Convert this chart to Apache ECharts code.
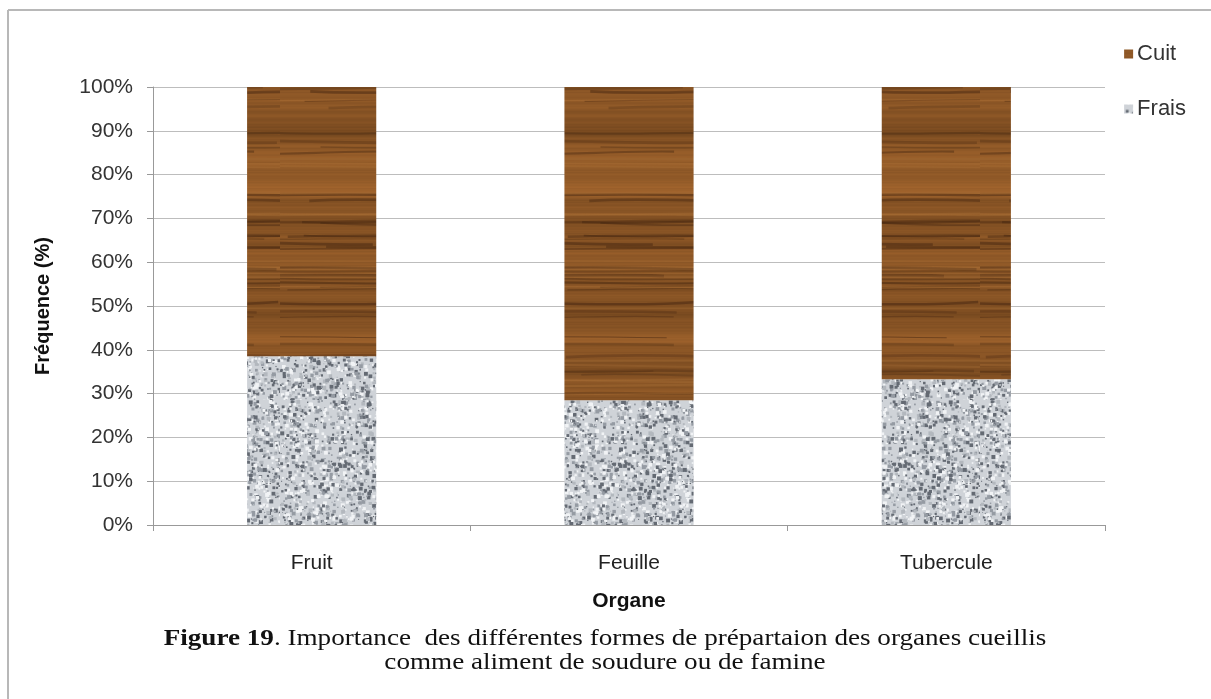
<!DOCTYPE html>
<html lang="fr">
<head>
<meta charset="UTF-8">
<script src="https://cdn.jsdelivr.net/npm/echarts@6/dist/echarts.min.js"></script>
<title>Figure 19</title>
<style>
html,body{margin:0;padding:0;background:#fff;}
#chart{width:1211px;height:699px;}
</style>
</head>
<body>
<div id="chart"></div>
<script>
var categories = ['Fruit', 'Feuille', 'Tubercule'];
var frais = [38.5, 28.5, 33.3];
var cuit = [61.5, 71.5, 66.7];
var yTicks = ['0%', '10%', '20%', '30%', '40%', '50%', '60%', '70%', '80%', '90%', '100%'];

// textures (style only, seeded so they stay the same)
var seed = 7;
function rnd() { seed = (seed * 16807) % 2147483647; return seed / 2147483647; }

function woodTexture() {
    var c = document.createElement('canvas');
    c.width = 140; c.height = 460;
    var g = c.getContext('2d');
    var v = 0.5;
    for (var y = 0; y < c.height; y++) {
        v += (rnd() - 0.5) * 0.25;
        v = Math.max(0, Math.min(1, v * 0.9 + 0.05));
        var r = 108 + Math.floor(v * 56), gg = 66 + Math.floor(v * 36), b = 28 + Math.floor(v * 18);
        g.fillStyle = 'rgb(' + r + ',' + gg + ',' + b + ')';
        g.fillRect(0, y, c.width, 1);
    }
    for (var i = 0; i < 50; i++) {
        var yy = rnd() * c.height, x0 = rnd() * c.width;
        g.strokeStyle = 'rgba(72,40,17,' + (0.25 + rnd() * 0.35) + ')';
        g.lineWidth = 1 + rnd() * 2;
        g.beginPath();
        g.moveTo(x0 - 90, yy);
        g.bezierCurveTo(x0 - 30, yy + (rnd() - 0.5) * 8, x0 + 30, yy + (rnd() - 0.5) * 8, x0 + 90, yy + (rnd() - 0.5) * 4);
        g.stroke();
    }
    for (var j = 0; j < 30; j++) {
        var y2 = rnd() * c.height;
        g.strokeStyle = 'rgba(180,118,60,0.3)';
        g.lineWidth = 1 + rnd() * 2;
        g.beginPath();
        g.moveTo(0, y2);
        g.lineTo(c.width, y2 + (rnd() - 0.5) * 4);
        g.stroke();
    }
    return c;
}

function graniteTexture() {
    var c = document.createElement('canvas');
    c.width = 140; c.height = 200;
    var g = c.getContext('2d');
    g.fillStyle = '#cfd3d8';
    g.fillRect(0, 0, c.width, c.height);
    for (var i = 0; i < 2400; i++) {
        var x = rnd() * c.width, y = rnd() * c.height, s = 1 + rnd() * 3;
        var v = rnd();
        var col = v < 0.3 ? '#646a73' : (v < 0.55 ? '#959ba3' : (v < 0.85 ? '#f1f3f5' : '#b3b8be'));
        g.fillStyle = col;
        g.fillRect(x, y, s, s);
    }
    return c;
}

var chart = echarts.init(document.getElementById('chart'));
var font = 'Arial';
var serif = "'Liberation Serif', 'Times New Roman', serif";

var option = {
    backgroundColor: '#fff',
    animation: false,
    graphic: [
        { type: 'line', shape: { x1: 8, y1: 10, x2: 1211, y2: 10 }, style: { stroke: '#b8b8b8', lineWidth: 2 } },
        { type: 'line', shape: { x1: 8, y1: 10, x2: 8, y2: 699 }, style: { stroke: '#b8b8b8', lineWidth: 2 } },
        {
            type: 'text', x: 605, y: 639, scaleX: 1.13,
            style: {
                text: '{b|Figure 19}. Importance  des différentes formes de prépartaion des organes cueillis',
                font: '24px ' + serif, fill: '#111', align: 'center', verticalAlign: 'middle',
                rich: { b: { fontWeight: 'bold', fontSize: 24, fontFamily: serif, fill: '#111' } }
            }
        },
        {
            type: 'text', x: 605, y: 663, scaleX: 1.13,
            style: {
                text: 'comme aliment de soudure ou de famine',
                font: '24px ' + serif, fill: '#111', align: 'center', verticalAlign: 'middle'
            }
        }
    ],
    legend: {
        orient: 'vertical', right: 20, top: 38,
        icon: 'rect', itemWidth: 9, itemHeight: 9, itemGap: 33,
        data: ['Cuit', 'Frais'],
        textStyle: { fontFamily: font, fontSize: 22, color: '#333', padding: [0, 0, 0, -1] }
    },
    grid: { left: 153, right: 106, top: 87, bottom: 174 },
    xAxis: {
        type: 'category', data: categories,
        name: 'Organe', nameLocation: 'middle', nameGap: 66,
        nameTextStyle: { fontFamily: font, fontSize: 21, fontWeight: 'bold', color: '#111' },
        axisLine: { lineStyle: { color: '#999' } },
        axisTick: { show: true, length: 6, lineStyle: { color: '#999' } },
        axisLabel: { fontFamily: font, fontSize: 21, color: '#222', margin: 28 }
    },
    yAxis: {
        type: 'value', min: 0, max: 100, interval: 10,
        name: 'Fréquence (%)', nameLocation: 'middle', nameGap: 100, nameRotate: 90,
        nameTextStyle: { fontFamily: font, fontSize: 20, fontWeight: 'bold', color: '#111' },
        axisLine: { show: true, lineStyle: { color: '#999' } },
        axisTick: { show: true, length: 6, lineStyle: { color: '#999' } },
        axisLabel: {
            fontFamily: font, fontSize: 21, color: '#333', margin: 20,
            formatter: function (v) { return yTicks[Math.round(v / 10)]; }
        },
        splitLine: { lineStyle: { color: '#bdbdbd' } }
    },
    series: [
        {
            name: 'Frais', type: 'bar', stack: 'total', barWidth: '40.7%',
            data: frais,
            itemStyle: { color: { image: graniteTexture(), repeat: 'repeat' } }
        },
        {
            name: 'Cuit', type: 'bar', stack: 'total', barWidth: '40.7%',
            data: cuit,
            itemStyle: { color: { image: woodTexture(), repeat: 'repeat' } }
        }
    ]
};
chart.setOption(option);
</script>
</body>
</html>
